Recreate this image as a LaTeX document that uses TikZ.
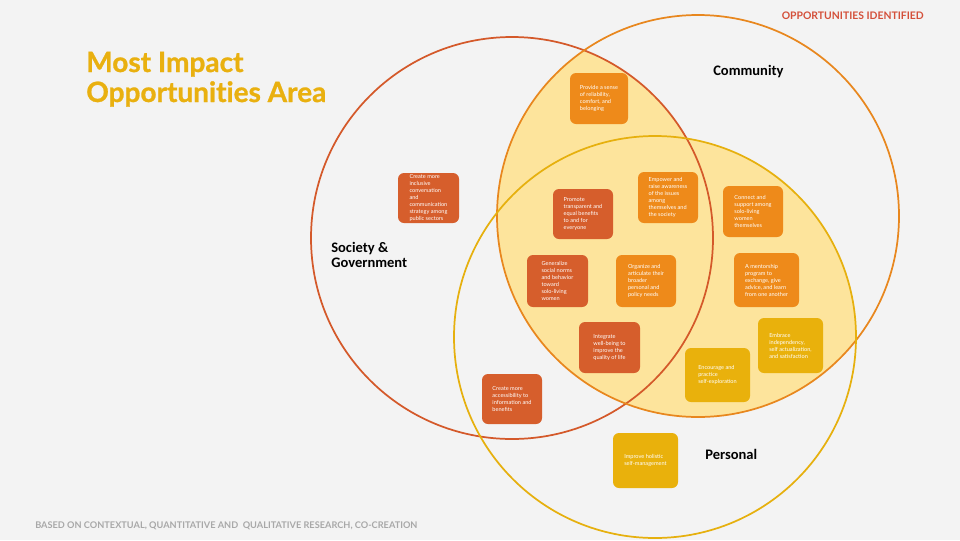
\documentclass[tikz,border=0pt]{standalone}
\usepackage{fontspec}
\setmainfont{Lato}
\newfontfamily\lblfont{Carlito}
\newfontfamily\titlefont{Lato}[Ligatures=NoCommon, BoldFeatures={FakeBold=0.9}]
\definecolor{bgc}{HTML}{F3F3F3}
\definecolor{cS}{HTML}{D4592A}
\definecolor{cC}{HTML}{E8871E}
\definecolor{cP}{HTML}{E6B00E}
\definecolor{bS}{HTML}{D65E2C}
\definecolor{bC}{HTML}{EE8A1A}
\definecolor{bP}{HTML}{E9B10C}
\definecolor{fillc}{HTML}{FDE49C}
\definecolor{titlec}{HTML}{E9B00F}
\definecolor{redc}{HTML}{D4503A}
\definecolor{greyc}{HTML}{A8A8A8}
\tikzset{
  box/.style={rounded corners=4.5pt, text=white, align=left, inner sep=0pt,
    font=\fontsize{4.2pt}{5.25pt}\selectfont},
  ring/.style={line width=1.3pt},
  lbl/.style={anchor=base west, inner sep=0pt, align=left,
    font=\lblfont\bfseries\fontsize{10.9pt}{11.25pt}\selectfont}
}
\begin{document}
\begin{tikzpicture}[x=0.75pt,y=-0.75pt]
\fill[bgc] (0,0) rectangle (960,540);
\useasboundingbox (0,0) rectangle (960,540);
% shaded region: community and (society or personal)
\begin{scope}
  \clip (698,216) circle[radius=150.75pt];
  \fill[fillc] (512,238) circle[radius=150.75pt];
  \fill[fillc] (655,337) circle[radius=150.75pt];
\end{scope}
% circles
\draw[ring, cS] (512,238) circle[radius=150.75pt];
\draw[ring, cC] (698,216) circle[radius=150.75pt];
\draw[ring, cP] (655,337) circle[radius=150.75pt];
% titles
\node[anchor=base west, inner sep=0pt, align=left, text=titlec,
  font=\titlefont\bfseries\fontsize{21pt}{22.5pt}\selectfont] (title) at (86,102)
  {Most Impact\\Opportunities Area};
\node[anchor=base east, inner sep=0pt, text=redc,
  font=\bfseries\fontsize{7.8pt}{8pt}\selectfont] (tag) at (924,19)
  {OPPORTUNITIES IDENTIFIED};
\node[anchor=base west, inner sep=0pt, text=greyc,
  font=\bfseries\fontsize{6.9pt}{8pt}\selectfont] (foot) at (35,528)
  {BASED ON CONTEXTUAL, QUANTITATIVE AND\ \ QUALITATIVE RESEARCH, CO-CREATION};
% circle labels
\node[lbl] (lC) at (713,75) {Community};
\node[lbl] (lS) at (331,267) {Society \&\\Government};
\node[lbl] (lP) at (705,459.5) {Personal};
% boxes
\node[box, fill=bC, minimum width=43.5pt, minimum height=38.25pt] (b1) at (599,98.5)
  {Provide a sense\\of reliability,\\comfort, and\\belonging};
\node[box, fill=bS, minimum width=45.75pt, minimum height=37.5pt] (b2) at (428.5,198)
  {Create more\\inclusive\\conversation\\and\\communication\\strategy among\\public sectors};
\node[box, fill=bS, minimum width=45pt, minimum height=37.5pt] (b3) at (583,214)
  {Promote\\transparent and\\equal benefits\\to and for\\everyone};
\node[box, fill=bC, minimum width=45pt, minimum height=38.25pt] (b4) at (668,197.5)
  {Empower and\\raise awareness\\of the issues\\among\\themselves and\\the society};
\node[box, fill=bC, minimum width=45pt, minimum height=38.25pt] (b5) at (753,211.5)
  {Connect and\\support among\\solo-living\\women\\themselves};
\node[box, fill=bS, minimum width=45.75pt, minimum height=39pt] (b6) at (557.5,281)
  {Generalize\\social norms\\and behavior\\toward\\solo-living\\women};
\node[box, fill=bC, minimum width=45pt, minimum height=39pt] (b7) at (646,281)
  {Organize and\\articulate their\\broader\\personal and\\policy needs};
\node[box, fill=bC, minimum width=48.75pt, minimum height=40.5pt] (b8) at (766.5,280)
  {A mentorship\\program to\\exchange, give\\advice, and learn\\from one another};
\node[box, fill=bS, minimum width=45.75pt, minimum height=38.25pt] (b9) at (609.5,347.5)
  {Integrate\\well-being to\\improve the\\quality of life};
\node[box, fill=bP, minimum width=48.75pt, minimum height=41.25pt] (b10) at (790.5,345.5)
  {Embrace\\independency,\\self actualization,\\and satisfaction};
\node[box, fill=bP, minimum width=48.75pt, minimum height=40.5pt] (b11) at (717.5,375)
  {Encourage and\\practice\\self-exploration};
\node[box, fill=bS, minimum width=45pt, minimum height=37.5pt] (b12) at (512,399)
  {Create more\\accessibility to\\information and\\benefits};
\node[box, fill=bP, minimum width=48.75pt, minimum height=41.25pt] (b13) at (645.5,460.5)
  {Improve holistic\\self-management};
\end{tikzpicture}
\end{document}
